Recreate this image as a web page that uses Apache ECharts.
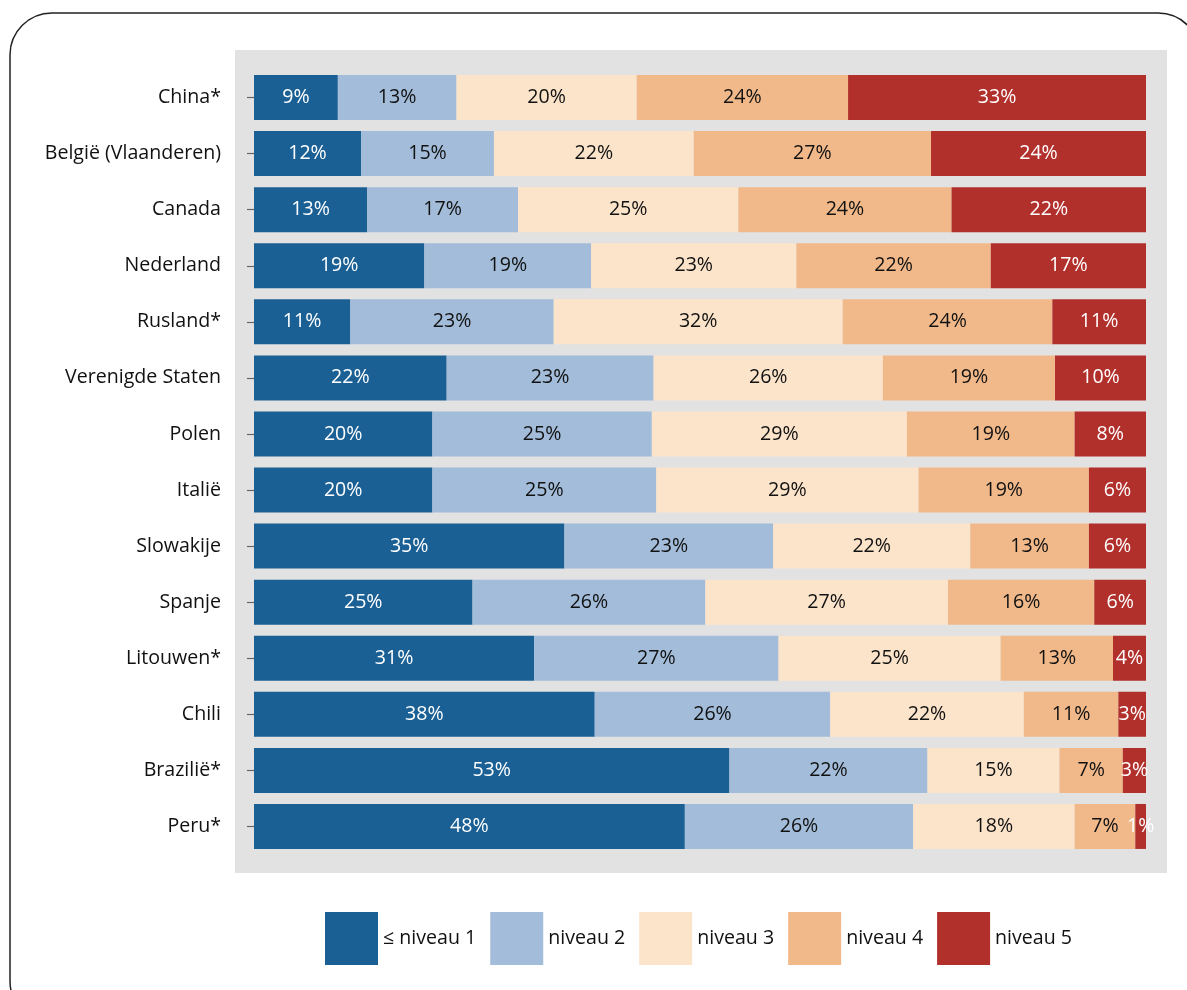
<!DOCTYPE html>
<html>
<head>
<meta charset="utf-8">
<script src="https://cdn.jsdelivr.net/npm/echarts@6/dist/echarts.min.js"></script>
<style>
html,body{margin:0;padding:0;background:#fff;}
#chart{width:1187px;height:990px;}
</style>
</head>
<body>
<div id="chart"></div>
<script>
const categories = ['China*','België (Vlaanderen)','Canada','Nederland','Rusland*','Verenigde Staten','Polen','Italië','Slowakije','Spanje','Litouwen*','Chili','Brazilië*','Peru*'];
const seriesNames = ['≤ niveau 1','niveau 2','niveau 3','niveau 4','niveau 5'];
const level1 = [9.4, 12.0, 12.7, 19.1, 10.8, 21.6, 20.0, 20.0, 34.8, 24.5, 31.4, 38.2, 53.3, 48.3];
const level2 = [13.3, 14.9, 16.9, 18.7, 22.8, 23.2, 24.6, 25.1, 23.4, 26.1, 27.4, 26.4, 22.2, 25.6];
const level3 = [20.2, 22.4, 24.7, 23.0, 32.4, 25.7, 28.6, 29.4, 22.1, 27.2, 24.9, 21.7, 14.8, 18.1];
const level4 = [23.7, 26.6, 23.9, 21.8, 23.5, 19.3, 18.8, 19.1, 13.3, 16.4, 12.6, 10.6, 7.1, 6.8];
const level5 = [33.4, 24.1, 21.8, 17.4, 10.5, 10.2, 8.0, 6.4, 6.4, 5.8, 3.7, 3.1, 2.6, 1.2];
const colors = ['#1b6094','#a2bcd9','#fce4cb','#f1b98a','#b1302c'];
const labelColors = ['#ffffff','#111111','#111111','#111111','#ffffff'];
const values = [level1, level2, level3, level4, level5];

const FONT = '"Open Sans", "Noto Sans", sans-serif';
const chart = echarts.init(document.getElementById('chart'));
chart.setOption({
  backgroundColor: '#ffffff',
  animation: false,
  graphic: [
    {type:'rect', z:-20, silent:true, shape:{x:10,y:13,width:1190,height:1010,r:42}, style:{fill:'none',stroke:'#222222',lineWidth:1.5}},
    {type:'rect', z:-10, silent:true, shape:{x:235,y:50,width:932,height:823}, style:{fill:'#e2e2e2'}}
  ],
  legend: {
    left: 325, top: 912, padding: 0,
    itemWidth: 53, itemHeight: 53, itemGap: 14, itemTextGap: 7,
    icon: 'rect',
    textStyle: {fontFamily: FONT, fontSize: 19.6, color: '#111'},
    data: seriesNames,
    selectedMode: false
  },
  grid: {left: 254, width: 892, top: 69.5, height: 785, containLabel: false},
  xAxis: {type:'value', min:0, max:100, show:false},
  yAxis: {
    type:'category', data: categories, inverse: true, offset: 19,
    axisLine: {show:false},
    axisTick: {show:true, alignWithLabel:true, length:7, lineStyle:{color:'#666', width:1.2}},
    axisLabel: {fontFamily: FONT, fontSize: 19.6, color:'#111', margin: 14}
  },
  series: values.map((v, i) => ({
    name: seriesNames[i],
    type: 'bar',
    stack: 'total',
    barWidth: 45,
    data: v,
    itemStyle: {color: colors[i]},
    emphasis: {disabled: true},
    label: {
      show: true, position: 'inside',
      fontFamily: FONT, fontSize: 19.6, color: labelColors[i],
      formatter: p => Math.round(p.value) + '%'
    }
  }))
});
</script>
</body>
</html>
